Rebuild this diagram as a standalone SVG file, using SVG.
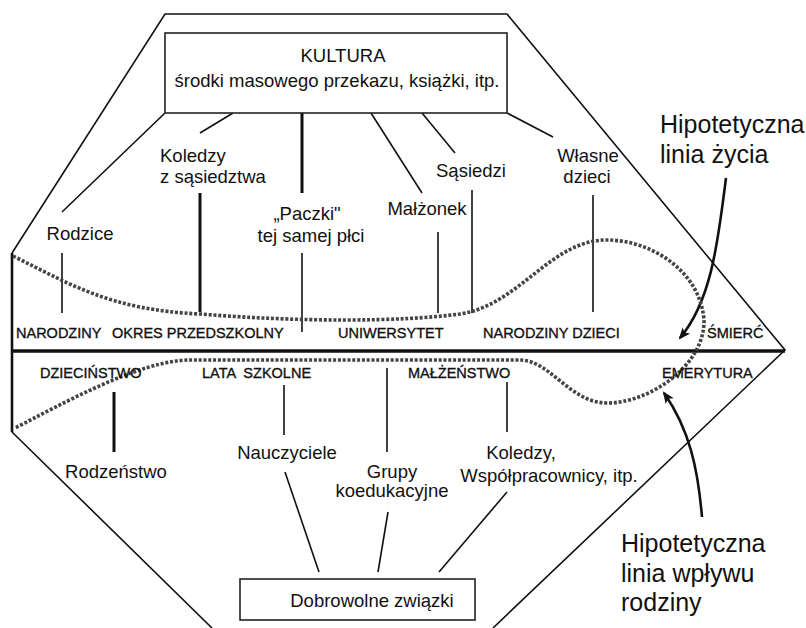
<svg xmlns="http://www.w3.org/2000/svg" width="806" height="628" viewBox="0 0 806 628">
<defs>
<style>
text{font-family:"Liberation Sans",Arial,sans-serif;fill:#111;}
.lbl{font-size:18.5px;text-anchor:middle;}
.cap{font-size:14.5px;stroke:#111;stroke-width:0.35;}
.big{font-size:25px;}
.ln{stroke:#111;stroke-width:1.6;fill:none;}
.thk{stroke:#111;stroke-width:3;fill:none;}
.box{stroke:#222;stroke-width:1.6;fill:#fff;}
.dot{stroke:#444;stroke-width:3.6;stroke-dasharray:3 1.8;fill:none;}
.arr{stroke:#111;stroke-width:2.6;fill:none;marker-end:url(#ah);}
</style>
<marker id="ah" viewBox="0 0 12 10" refX="10" refY="5" markerWidth="12" markerHeight="10" markerUnits="userSpaceOnUse" orient="auto">
<path d="M0,0 L12,5 L0,10 L3,5 Z" fill="#111"/>
</marker>
</defs>
<rect width="806" height="628" fill="#fff"/>

<g id="frame">
<path class="ln" d="M212,628 L12,432 M12,253 L165,14 L507,14 L785,350 L493,628"/>
<path d="M12,253 L12,432" stroke="#111" stroke-width="2.6"/>
<path d="M12,351 L785,351" stroke="#111" stroke-width="3.6"/>
</g>

<g id="connectors">
<path class="ln" d="M165,113 L62,212"/>
<path class="ln" d="M233,113 L200,133"/>
<path class="thk" d="M302,113 L302,193"/>
<path class="ln" d="M371,113 L422,193"/>
<path class="ln" d="M422,113 L455,153"/>
<path class="ln" d="M507,113 L553,137"/>
<path class="ln" d="M62,253 L62,313"/>
<path class="thk" d="M200,193 L200,312"/>
<path class="ln" d="M302,253 L302,332"/>
<path class="ln" d="M438,232 L438,313"/>
<path class="ln" d="M472,190 L472,313"/>
<path class="ln" d="M593,195 L593,312"/>
<path class="thk" d="M114,392 L114,452"/>
<path class="ln" d="M284,385 L284,435"/>
<path class="ln" d="M387,368 L387,452"/>
<path class="ln" d="M507,382 L507,432"/>
<path class="ln" d="M285,472 L319,572"/>
<path class="ln" d="M388,512 L378,572"/>
<path class="ln" d="M507,492 L439,572"/>
<path class="arr" d="M726,178 C718,240 712,300 680,338"/>
<path class="arr" d="M702,517 C698,470 690,430 664,393"/>
</g>

<g id="curve">
<path class="dot" d="M13,256 C70,284 110,310 200,314 C300,322 400,322 460,314 C520,305 550,240 607,240 C650,240 700,270 704,320 C705,365 650,403 607,403 C570,403 550,360 520,360 L190,360 C140,360 60,405 15,428"/>
</g>

<g id="kultura">
<rect class="box" x="165" y="33" width="342" height="80"/>
<text class="lbl" x="343" y="62">KULTURA</text>
<text class="lbl" x="337" y="87">środki masowego przekazu, książki, itp.</text>
</g>

<g id="dobrowolne">
<rect class="box" x="240" y="579" width="235" height="41"/>
<text class="lbl" x="372" y="607">Dobrowolne związki</text>
</g>

<g id="rodzice"><text class="lbl" x="80" y="240">Rodzice</text></g>
<g id="koledzy-sasiedztwa"><text class="lbl" style="text-anchor:start" x="160" y="162">Koledzy</text><text class="lbl" style="text-anchor:start" x="160" y="183">z sąsiedztwa</text></g>
<g id="paczki"><text class="lbl" x="307" y="220">„Paczki"</text><text class="lbl" x="311" y="242">tej samej płci</text></g>
<g id="malzonek"><text class="lbl" x="427" y="215">Małżonek</text></g>
<g id="sasiedzi"><text class="lbl" x="471" y="177">Sąsiedzi</text></g>
<g id="wlasne-dzieci"><text class="lbl" x="588" y="162">Własne</text><text class="lbl" x="587" y="183">dzieci</text></g>

<g id="rodzenstwo"><text class="lbl" x="116" y="478">Rodzeństwo</text></g>
<g id="nauczyciele"><text class="lbl" x="287" y="459">Nauczyciele</text></g>
<g id="grupy"><text class="lbl" x="392" y="478">Grupy</text><text class="lbl" x="392" y="497">koedukacyjne</text></g>
<g id="koledzy-wspolpracownicy"><text class="lbl" x="521" y="459">Koledzy,</text><text class="lbl" x="549" y="482">Współpracownicy, itp.</text></g>

<g id="etapy">
<text class="cap" x="16" y="338">NARODZINY</text>
<text class="cap" x="112" y="338">OKRES PRZEDSZKOLNY</text>
<text class="cap" x="338" y="338">UNIWERSYTET</text>
<text class="cap" x="483" y="338">NARODZINY DZIECI</text>
<text class="cap" x="707" y="338">ŚMIERĆ</text>
<text class="cap" x="40" y="378">DZIECIŃSTWO</text>
<text class="cap" x="202" y="378" xml:space="preserve">LATA  SZKOLNE</text>
<text class="cap" x="408" y="378">MAŁŻEŃSTWO</text>
<text class="cap" x="662" y="378">EMERYTURA</text>
</g>

<g id="linia-zycia"><text class="big" x="660" y="133">Hipotetyczna</text><text class="big" x="660" y="163">linia życia</text></g>
<g id="linia-rodziny"><text class="big" x="621" y="552">Hipotetyczna</text><text class="big" x="621" y="582">linia wpływu</text><text class="big" x="621" y="611">rodziny</text></g>
</svg>
